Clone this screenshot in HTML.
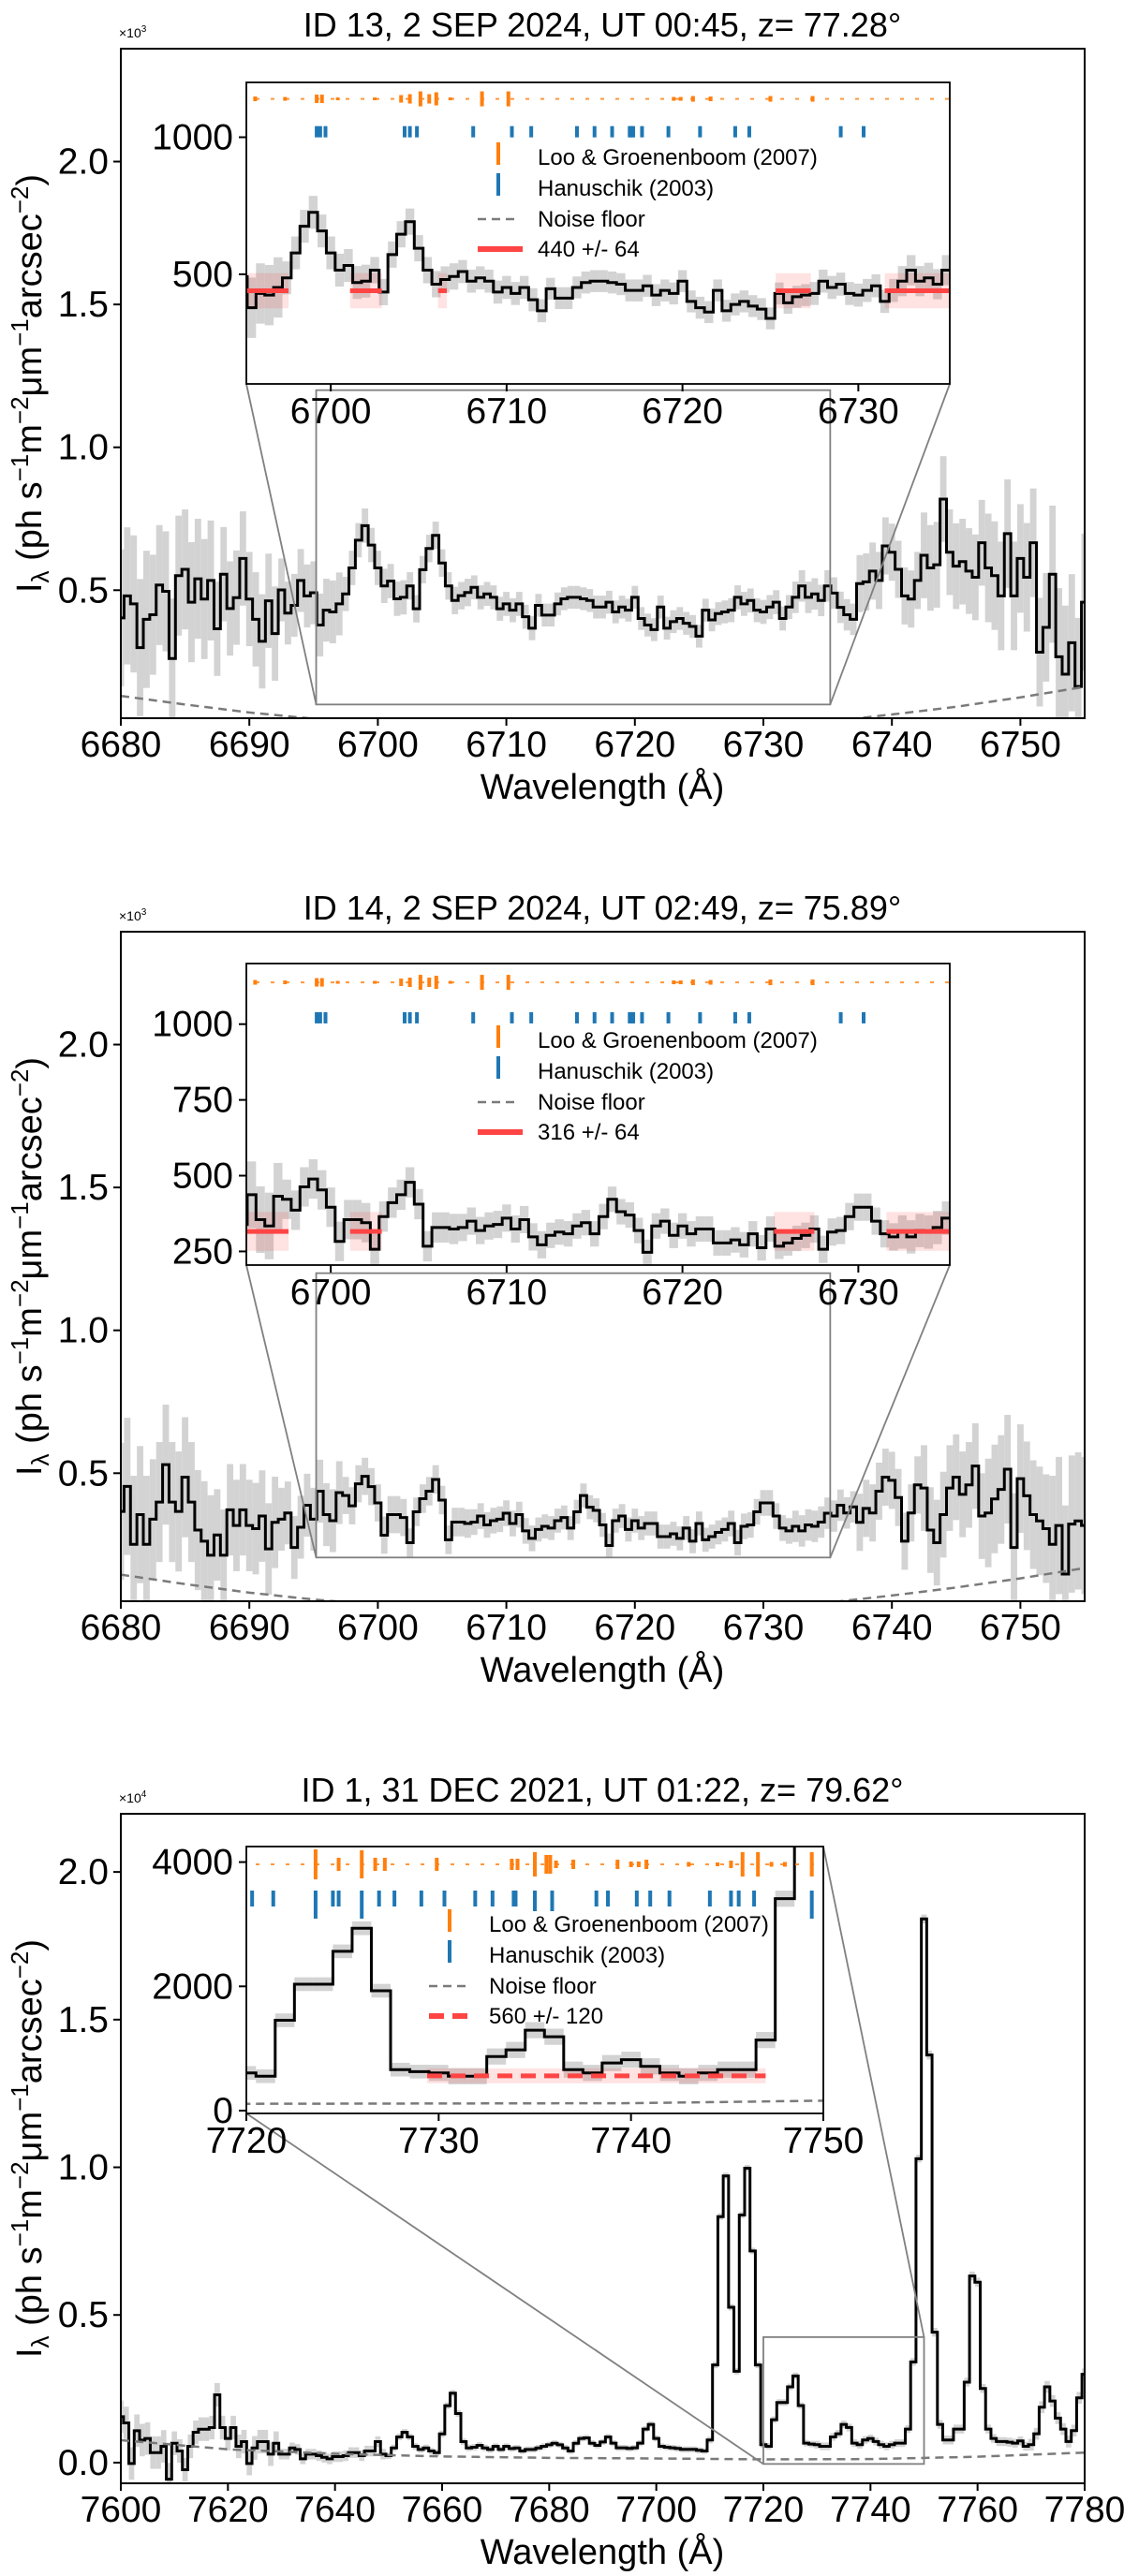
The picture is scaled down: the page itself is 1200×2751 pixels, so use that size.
<!DOCTYPE html>
<html><head><meta charset="utf-8"><title>Night-sky spectra</title>
<style>
html,body{margin:0;padding:0;background:#fff;}
svg{display:block;font-family:"Liberation Sans",Arial,sans-serif;}
</style></head>
<body>
<svg id="fig" xmlns="http://www.w3.org/2000/svg" width="1200" height="2751" viewBox="0 0 1200 2751"></svg>
<script>
// ---------- DATA ----------
const p1Start = 6680, p1Step = 0.5;
const p1Values = [403,480,452,299,398,414,518,496,261,551,573,458,540,469,534,365,556,436,474,611,469,398,321,463,348,501,420,447,534,480,491,
378,430,424,452,487,578,675,726,658,578,515,532,470,475,515,435,572,646,692,595,515,464,481,492,510,475,487,475,435,452,430,452,407,367,447,413,413,452,470,475,475,470,464,441,441,458,424,441,430,475,401,378,362,441,367,390,401,384,373,339,430,396,418,424,430,475,452,464,430,424,441,458,401,441,475,515,475,487,464,515,
490,440,
414,398,523,529,567,534,655,633,573,480,469,534,622,578,589,819,633,584,600,567,545,666,578,551,480,698,480,611,545,666,283,370,556,267,206,316,163,458];
const p1ErrStart = 6680, p1ErrStep = 5;
const p1Err = [240,210,165,110,60,48,42,40,40,40,42,55,100,150,190,240];
const p1Noise = [130,100,72,50,32,18,9,4,4,10,22,40,65,92,125,162];

const p2Start = 6680, p2Step = 0.5;
const p2Values = [366,454,251,355,251,339,399,530,399,366,486,399,301,262,213,284,213,372,317,372,317,306,350,235,328,339,361,240,311,388,339,
437,355,334,432,422,386,463,489,453,396,283,355,355,345,257,365,411,437,478,406,267,329,329,324,329,350,319,334,339,360,324,355,298,272,303,314,308,334,345,308,365,422,381,370,319,247,334,350,303,334,308,324,324,278,278,288,272,308,262,324,267,278,293,303,324,257,314,319,365,396,396,350,308,298,314,298,319,314,329,360,
350,388,
361,382,328,377,361,437,486,475,415,262,361,459,448,301,257,355,448,486,426,459,525,350,361,410,443,514,240,481,421,355,333,306,251,317,147,322,333,317];
const p2ErrStart = 6680, p2ErrStep = 5;
const p2Err = [240,210,160,110,65,50,45,42,42,42,45,55,100,150,190,240];
const p2Noise = [145,112,82,58,40,25,15,10,10,16,28,47,72,100,132,168];

const p3Start = 7600, p3Step = 1;
const p3Values = [1556,1345,-30,1080,763,816,340,340,551,-560,657,392,-240,551,1027,1133,1133,1186,2297,1186,
816,1186,551,710,-30,498,710,710,287,657,287,287,498,445,128,287,287,234,181,128,
202,202,234,340,340,234,392,392,710,287,234,498,869,1027,869,551,445,498,392,340,
974,1927,2350,1662,710,498,520,583,498,445,551,445,551,477,498,392,445,445,498,551,
604,657,604,498,392,657,816,837,657,583,
700,871,660,501,501,480,501,660,1136,1295,819,554,522,501,480,448,448,448,416,395,
766,3305,8330,9706,5262,3093,8383,9970,7167,3305,607,554,1454,2035,2035,2564,2935,1930,660,628,
607,554,554,871,977,1295,1189,660,607,766,819,713,607,554,607,660,660,1136,3411,10290,
18410,13800,4416,1295,766,766,1136,1136,2723,6320,6110,2511,1136,819,713,713,692,660,734,554,
607,977,1877,2564,2088,1507,1136,713,1083,2194,2988];
const p3ErrStart = 7600, p3ErrStep = 20;
const p3Err = [550,400,180,110,100,100,110,130,150,200];
const p3Noise = [760,450,300,210,160,140,110,120,200,340];

// reference lines (wavelengths, relative marker heights)
const p12OrangeLines = [6695.7,6697.4,6699.2,6699.5,6700.4,6702.5,6704.0,6704.5,6705.1,6705.6,6706.0,6706.8,6708.6,6710.1,6719.5,6719.9,6720.6,6721.6,6725.0,6727.4];
const p12OrangeH = [5,4,9,9,3,3,8,10,16,10,14,3,16,16,4,4,6,5,6,6];
const p12BlueLines = [6699.2,6699.4,6699.7,6704.2,6704.5,6704.9,6708.1,6710.3,6711.4,6714.0,6715.0,6716.0,6717.0,6717.1,6717.2,6717.7,6719.2,6721.0,6723.0,6723.8,6729.0,6730.3];
const p3OrangeLines = [7723.6,7724.8,7726.0,7726.7,7727.2,7729.9,7733.8,7734.1,7735.0,7735.6,7735.8,7736.1,7737.0,7739.3,7740.0,7740.4,7740.8,7743.0,7744.5,7745.2,7745.8,7746.6,7747.3,7748.0,7749.4];
const p3OrangeH = [32,14,30,14,14,14,12,12,26,20,20,8,10,10,6,6,10,5,4,8,26,26,5,5,26];
const p3BlueLines = [7720.3,7721.4,7723.6,7724.5,7724.8,7726.0,7726.9,7727.7,7729.1,7730.3,7731.9,7732.8,7733.9,7734.0,7735.0,7735.9,7738.2,7738.8,7740.3,7741.0,7742.0,7744.1,7745.2,7745.6,7746.4,7749.4];
const p3BlueH = [17,17,30,17,17,30,17,17,17,17,17,17,17,17,22,22,17,17,17,17,17,17,17,17,17,30];

// fitted continuum segments
const p1FitSegs = [[6695.2,6697.6],[6701.1,6702.9],[6706.1,6706.6],[6725.3,6727.3],[6731.5,6735.2]];
const p1FitLevel = 440, p1FitErr = 64;
const p2FitSegs = [[6695.2,6697.6],[6701.1,6702.9],[6725.2,6727.5],[6731.6,6735.2]];
const p2FitLevel = 316, p2FitErr = 64;
const p3FitSegs = [[7729.4,7747]];
const p3FitLevel = 560, p3FitErr = 120;

// ticks
const p12XTicks = [6680,6690,6700,6710,6720,6730,6740,6750];
const p12YTicks = [500,1000,1500,2000];
const p12YTickLabels = ["0.5","1.0","1.5","2.0"];
const p12InsetXTicks = [6700,6710,6720,6730];
const p1InsetYTicks = [500,1000];
const p2InsetYTicks = [250,500,750,1000];
const p3XTicks = [7600,7620,7640,7660,7680,7700,7720,7740,7760,7780];
const p3YTicks = [0,5000,10000,15000,20000];
const p3YTickLabels = ["0.0","0.5","1.0","1.5","2.0"];
const p3InsetXTicks = [7720,7730,7740,7750];
const p3InsetYTicks = [0,2000,4000];

// ---------- RENDER ----------
const NS = "http://www.w3.org/2000/svg";
const svg = document.getElementById('fig');
function mk(tag, attrs, parent){
  const e = document.createElementNS(NS, tag);
  for (const k in attrs) e.setAttribute(k, attrs[k]);
  (parent||svg).appendChild(e);
  return e;
}
function lin(d0,d1,r0,r1){ return v => r0 + (v-d0)/(d1-d0)*(r1-r0); }
let clipId = 0;
function clip(x0,y0,x1,y1){
  const id = 'c'+(clipId++);
  const cp = mk('clipPath',{id:id});
  mk('rect',{x:x0,y:y0,width:x1-x0,height:y1-y0},cp);
  return 'url(#'+id+')';
}
function stepPath(start, step, vals, sx, sy){
  let d = '';
  vals.forEach((v,i)=>{
    const l = start + i*step;
    const xa = sx(l-step/2), xb = sx(l+step/2), y = sy(v);
    d += (i===0 ? 'M'+xa+','+y : 'L'+xa+','+y) + 'L'+xb+','+y;
  });
  return d;
}
function drawSeries(g, P, sx, sy){
  const eg = mk('g',{},g);
  
  
  P.values.forEach((v,i)=>{
    const l = P.start + i*P.step;
    const ei = Math.min(P.err.length-1, Math.max(0, Math.round((l-P.errStart)/P.errStep)));
    const e = P.err[ei];
    const r = mk('rect',{x:sx(l-P.step/2), y:sy(v+e), width:Math.max(1,sx(l+P.step/2)-sx(l-P.step/2)), height:Math.max(1,sy(v-e)-sy(v+e)), fill:'#d3d3d3'}, eg);
    
    
  });
}
function drawLine(g, P, sx, sy, lw){
  const p = mk('path',{d:stepPath(P.start,P.step,P.values,sx,sy), fill:'none', stroke:'#000', 'stroke-width':lw, 'stroke-linejoin':'miter'}, g);
  
  
}
function drawNoise(g, P, sx, sy){
  const pts = P.noise.map((v,i)=> sx(P.errStart + i*P.errStep)+','+sy(v)).join(' ');
  const pl = mk('polyline',{points:pts, fill:'none', stroke:'#7a7a7a', 'stroke-width':2.5, 'stroke-dasharray':'9,6'}, g);
  
  
}
function text(str, x, y, size, anchor, parent, name){
  const t = mk('text',{x:x,y:y,'font-size':size,'text-anchor':anchor||'start',fill:'#000'}, parent);
  t.textContent = str;
  
  
  return t;
}

function panel(P){
  const g = mk('g',{});
  
  
  const L=129, R=1158, T=P.top, B=P.top+715;
  const sx = lin(P.xlim[0],P.xlim[1],L,R), sy = lin(P.ylim[0],P.ylim[1],B,T);
  text(P.title, 643, T-13, 36, 'middle', g, 'panel-title');
  const m = mk('text',{x:L-2,y:T-12,'font-size':14,fill:'#000'},g);
  
  
  m.innerHTML = '×10<tspan dy="-6" font-size="10">'+P.mult+'</tspan>';
  const dg = mk('g',{'clip-path':clip(L,T,R,B)},g);
  drawSeries(dg,P,sx,sy);
  drawLine(dg,P,sx,sy,3);
  drawNoise(dg,P,sx,sy);
  const I = P.inset;
  const rx0=sx(I.xlim[0]), rx1=sx(I.xlim[1]), ry0=sy(I.ylim[1]), ry1=sy(I.ylim[0]);
  const zr = mk('rect',{x:rx0,y:ry0,width:rx1-rx0,height:ry1-ry0,fill:'none',stroke:'#808080','stroke-width':1.8},g);
  
  
  const fr = mk('rect',{x:L,y:T,width:R-L,height:B-T,fill:'none',stroke:'#000','stroke-width':2},g);
  
  
  P.xticks.forEach(v=>{
    mk('line',{x1:sx(v),x2:sx(v),y1:B,y2:B+8,stroke:'#000','stroke-width':2},g);
    text(String(v), sx(v), B+41, 39, 'middle', g, 'x-tick-label');
  });
  P.yticks.forEach((v,i)=>{
    mk('line',{x1:L-8,x2:L,y1:sy(v),y2:sy(v),stroke:'#000','stroke-width':2},g);
    text(P.yticklabels[i], 116, sy(v)+13, 39, 'end', g, 'y-tick-label');
  });
  text('Wavelength (Å)', 643, B+86, 38, 'middle', g, 'x-axis-title');
  const yl = mk('text',{x:0,y:0,'font-size':38,'text-anchor':'middle',transform:'translate(44,'+((T+B)/2)+') rotate(-90)',fill:'#000'},g);
  
  
  yl.innerHTML = 'I<tspan dy="8" font-size="26">λ</tspan><tspan dy="-8"> (ph s</tspan><tspan dy="-14" font-size="26">−1</tspan><tspan dy="14">m</tspan><tspan dy="-14" font-size="26">−2</tspan><tspan dy="14">μm</tspan><tspan dy="-14" font-size="26">−1</tspan><tspan dy="14">arcsec</tspan><tspan dy="-14" font-size="26">−2</tspan><tspan dy="14">)</tspan>';
  const IL=I.box[0], IT=I.box[1], IR=I.box[2], IB=I.box[3];
  I.connect.forEach(c=>{
    const from = c[0]==='bl'?[IL,IB]:c[0]==='br'?[IR,IB]:[IR,IT];
    const to = c[1]==='bl'?[rx0,ry1]:c[1]==='br'?[rx1,ry1]:[rx1,ry0];
    const ln = mk('line',{x1:from[0],y1:from[1],x2:to[0],y2:to[1],stroke:'#808080','stroke-width':1.8},g);
    
    
  });
  const ig = mk('g',{},g);
  
  
  mk('rect',{x:IL,y:IT,width:IR-IL,height:IB-IT,fill:'#fff'},ig);
  const isx = lin(I.xlim[0],I.xlim[1],IL,IR), isy = lin(I.ylim[0],I.ylim[1],IB,IT);
  const idg = mk('g',{'clip-path':clip(IL,IT,IR,IB)},ig);
  drawSeries(idg,P,isx,isy);
  P.fitSegs.forEach(s=>{
    const b = mk('rect',{x:isx(s[0]),y:isy(P.fitLevel+P.fitErr),width:isx(s[1])-isx(s[0]),height:isy(P.fitLevel-P.fitErr)-isy(P.fitLevel+P.fitErr),fill:'rgba(255,60,60,0.15)'},idg);
    
    
  });
  drawLine(idg,P,isx,isy,3);
  P.fitSegs.forEach(s=>{
    const f = mk('line',{x1:isx(s[0]),x2:isx(s[1]),y1:isy(P.fitLevel),y2:isy(P.fitLevel),stroke:'#ff4444','stroke-width':5,'stroke-dasharray':P.fitDash?'16,9':'none'},idg);
    
    
  });
  drawNoise(idg,P,isx,isy);
  const oy = isy(I.orangeY), by = isy(I.blueY);
  const base = mk('line',{x1:IL+10,x2:IR,y1:oy,y2:oy,stroke:'#ff7f0e','stroke-width':2,'stroke-dasharray':'4,12','opacity':0.8},idg);
  
  
  P.orange.forEach((l,i)=>{
    const h = P.orangeH[i];
    const t = mk('rect',{x:isx(l)-2,y:oy-h/2,width:4,height:h,fill:'#ff7f0e'},idg);
    
    
  });
  P.blue.forEach((l,i)=>{
    const h = P.blueH ? P.blueH[i] : 12;
    const t = mk('rect',{x:isx(l)-2,y:by-(P.blueH?9:6),width:4,height:h,fill:'#1f77b4'},idg);
    
    
  });
  const lg = mk('g',{},ig);
  
  
  const lx = I.legend[0], ly = IT + I.legend[1], tx = lx + 64;
  mk('rect',{x:lx+20,y:ly-16,width:4,height:24,fill:'#ff7f0e'},lg);
  text('Loo & Groenenboom (2007)', tx, ly+8, 24, 'start', lg, 'legend-entry');
  mk('rect',{x:lx+20,y:ly+17,width:4,height:24,fill:'#1f77b4'},lg);
  text('Hanuschik (2003)', tx, ly+41, 24, 'start', lg, 'legend-entry');
  mk('line',{x1:lx,x2:lx+45,y1:ly+66,y2:ly+66,stroke:'#7a7a7a','stroke-width':2.5,'stroke-dasharray':'9,6'},lg);
  text('Noise floor', tx, ly+74, 24, 'start', lg, 'legend-entry');
  mk('line',{x1:lx,x2:lx+48,y1:ly+98,y2:ly+98,stroke:'#ff4444','stroke-width':6,'stroke-dasharray':P.fitDash?'16,9':'none'},lg);
  text(P.fitLabel, tx, ly+106, 24, 'start', lg, 'legend-entry');
  const ifr = mk('rect',{x:IL,y:IT,width:IR-IL,height:IB-IT,fill:'none',stroke:'#000','stroke-width':1.8},ig);
  
  
  I.xticks.forEach(v=>{
    mk('line',{x1:isx(v),x2:isx(v),y1:IB,y2:IB+8,stroke:'#000','stroke-width':2},ig);
    text(String(v), isx(v), IB+42, 39, 'middle', ig, 'inset-x-tick-label');
  });
  I.yticks.forEach(v=>{
    mk('line',{x1:IL-8,x2:IL,y1:isy(v),y2:isy(v),stroke:'#000','stroke-width':2},ig);
    text(String(v), 249, isy(v)+13, 39, 'end', ig, 'inset-y-tick-label');
  });
}

panel({name:'panel-id13', title:'ID 13, 2 SEP 2024, UT 00:45, z= 77.28°', mult:'3', top:52,
  xlim:[6680,6755], ylim:[52,2395], start:p1Start, step:p1Step, values:p1Values,
  errStart:p1ErrStart, errStep:p1ErrStep, err:p1Err, noise:p1Noise,
  xticks:p12XTicks, yticks:p12YTicks, yticklabels:p12YTickLabels,
  fitSegs:p1FitSegs, fitLevel:p1FitLevel, fitErr:p1FitErr, fitDash:false, fitLabel:'440 +/- 64',
  orange:p12OrangeLines, orangeH:p12OrangeH, blue:p12BlueLines,
  inset:{box:[263,88,1014,410], xlim:[6695.2,6735.2], ylim:[100,1200], xticks:p12InsetXTicks, yticks:p1InsetYTicks,
    orangeY:1140, blueY:1020, legend:[510,80], connect:[['bl','bl'],['br','br']]}});

panel({name:'panel-id14', title:'ID 14, 2 SEP 2024, UT 02:49, z= 75.89°', mult:'3', top:995,
  xlim:[6680,6755], ylim:[52,2395], start:p2Start, step:p2Step, values:p2Values,
  errStart:p2ErrStart, errStep:p2ErrStep, err:p2Err, noise:p2Noise,
  xticks:p12XTicks, yticks:p12YTicks, yticklabels:p12YTickLabels,
  fitSegs:p2FitSegs, fitLevel:p2FitLevel, fitErr:p2FitErr, fitDash:false, fitLabel:'316 +/- 64',
  orange:p12OrangeLines, orangeH:p12OrangeH, blue:p12BlueLines,
  inset:{box:[263,1029,1014,1351], xlim:[6695.2,6735.2], ylim:[205,1200], xticks:p12InsetXTicks, yticks:p2InsetYTicks,
    orangeY:1138, blueY:1021, legend:[510,82], connect:[['bl','bl'],['br','br']]}});

panel({name:'panel-id1', title:'ID 1, 31 DEC 2021, UT 01:22, z= 79.62°', mult:'4', top:1937,
  xlim:[7600,7780], ylim:[-700,21970], start:p3Start, step:p3Step, values:p3Values,
  errStart:p3ErrStart, errStep:p3ErrStep, err:p3Err, noise:p3Noise,
  xticks:p3XTicks, yticks:p3YTicks, yticklabels:p3YTickLabels,
  fitSegs:p3FitSegs, fitLevel:p3FitLevel, fitErr:p3FitErr, fitDash:true, fitLabel:'560 +/- 120',
  orange:p3OrangeLines, orangeH:p3OrangeH, blue:p3BlueLines, blueH:p3BlueH,
  inset:{box:[263,1972,879,2257], xlim:[7720,7750], ylim:[-45,4250], xticks:p3InsetXTicks, yticks:p3InsetYTicks,
    orangeY:3964, blueY:3406, legend:[458,83], connect:[['bl','bl'],['tr','tr']]}});
</script>
</body></html>
